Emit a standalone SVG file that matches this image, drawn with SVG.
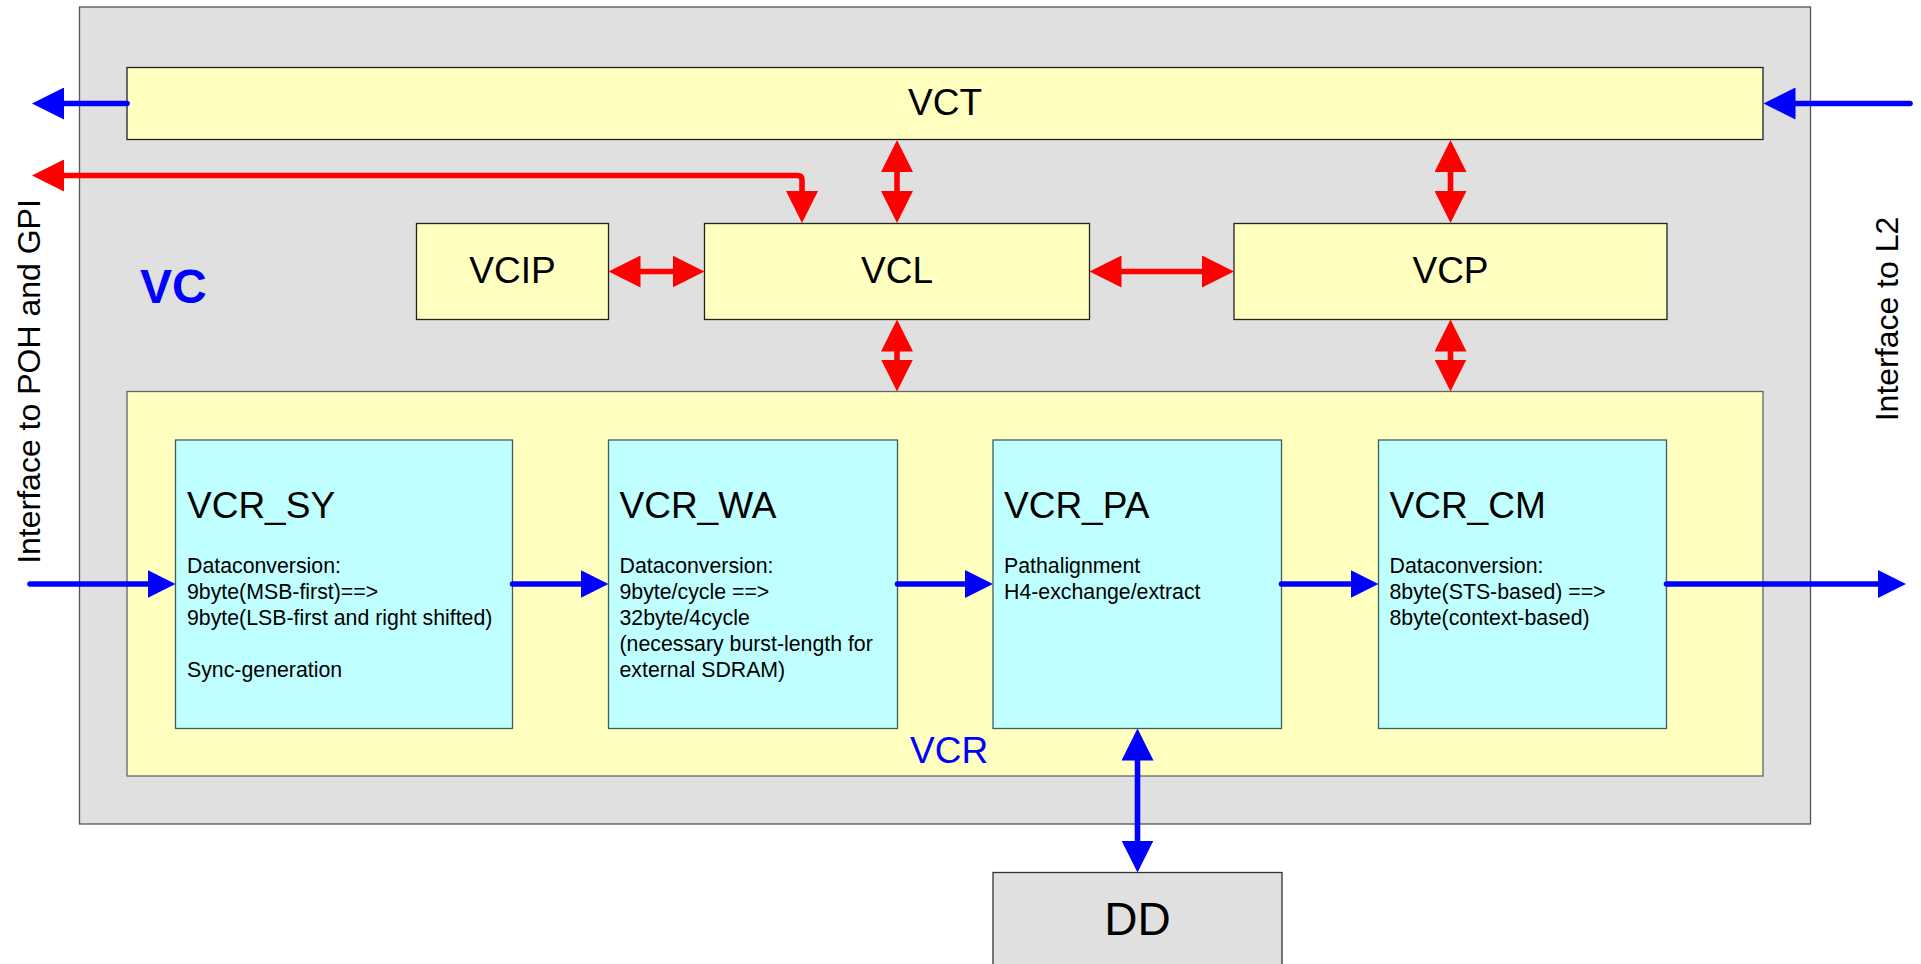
<svg xmlns="http://www.w3.org/2000/svg" width="1921" height="964" viewBox="0 0 1921 964">
<style>
text{font-family:"Liberation Sans",Arial,sans-serif}
.yel{fill:#ffffc0;stroke:#222;stroke-width:1.3}
.cy{fill:#c0ffff;stroke:#3f5f5f;stroke-width:1.3}
.gr{fill:#e0e0e0;stroke:#555;stroke-width:1.3}
.big{font-size:37px;fill:#000}
.ttl{font-size:37px;fill:#000}
.body{font-size:21.3px;fill:#000}
.side{font-size:32px;fill:#000}
.cb{fill:none;stroke:#0000ff;stroke-width:5.6;stroke-linecap:round;stroke-linejoin:round}
.cr{fill:none;stroke:#ff0000;stroke-width:5.6;stroke-linecap:round;stroke-linejoin:round}
</style>
<defs>
<marker id="hb" markerUnits="userSpaceOnUse" viewBox="0 0 32 32" markerWidth="32" markerHeight="32" refX="4" refY="16" orient="auto-start-reverse"><path d="M0,0 L32,16 L0,32 Z" fill="#0000ff"/></marker>
<marker id="hr" markerUnits="userSpaceOnUse" viewBox="0 0 32 32" markerWidth="32" markerHeight="32" refX="4" refY="16" orient="auto-start-reverse"><path d="M0,0 L32,16 L0,32 Z" fill="#ff0000"/></marker>
<marker id="hs" markerUnits="userSpaceOnUse" viewBox="0 0 28 28" markerWidth="28" markerHeight="28" refX="4" refY="14" orient="auto-start-reverse"><path d="M0,0 L28,14 L0,28 Z" fill="#0000ff"/></marker>
</defs>
<rect width="1921" height="964" fill="#fff"/>
<g id="VC">
<rect class="gr" x="79.5" y="7" width="1731" height="817"/>
<text x="140" y="302.5" style="font-size:48px;font-weight:bold;fill:#0000ff">VC</text>
</g>
<g id="side-left"><text class="side" transform="translate(40,381.5) rotate(-90)" text-anchor="middle">Interface to POH and GPI</text></g>
<g id="side-right"><text class="side" transform="translate(1898,319) rotate(-90)" text-anchor="middle">Interface to L2</text></g>
<g id="VCT">
<rect class="yel" x="127" y="67.5" width="1636" height="72"/>
<text class="big" x="945" y="115" text-anchor="middle">VCT</text>
</g>
<g id="VCIP">
<rect class="yel" x="416.5" y="223.5" width="192" height="96"/>
<text class="big" x="512.5" y="282.7" text-anchor="middle">VCIP</text>
</g>
<g id="VCL">
<rect class="yel" x="704.5" y="223.5" width="385" height="96"/>
<text class="big" x="897" y="282.7" text-anchor="middle">VCL</text>
</g>
<g id="VCP">
<rect class="yel" x="1234" y="223.5" width="433" height="96"/>
<text class="big" x="1450.5" y="282.7" text-anchor="middle">VCP</text>
</g>
<g id="VCR">
<rect class="yel" x="127" y="391.5" width="1636" height="384.5" style="stroke:#666"/>
<text x="910" y="762.7" style="font-size:37px;fill:#0000ff">VCR</text>
</g>
<g id="VCR_SY">
<rect class="cy" x="175.5" y="440" width="337" height="288.5"/>
<text class="ttl" x="187" y="518.3">VCR_SY</text>
<text class="body" x="187" y="573.3">Dataconversion:</text>
<text class="body" x="187" y="599.1">9byte(MSB-first)==&gt;</text>
<text class="body" x="187" y="624.9">9byte(LSB-first and right shifted)</text>
<text class="body" x="187" y="676.5">Sync-generation</text>
</g>
<g id="VCR_WA">
<rect class="cy" x="608.5" y="440" width="289" height="288.5"/>
<text class="ttl" x="619.5" y="518.3">VCR_WA</text>
<text class="body" x="619.5" y="573.3">Dataconversion:</text>
<text class="body" x="619.5" y="599.1">9byte/cycle ==&gt;</text>
<text class="body" x="619.5" y="624.9">32byte/4cycle</text>
<text class="body" x="619.5" y="650.7">(necessary burst-length for</text>
<text class="body" x="619.5" y="676.5">external SDRAM)</text>
</g>
<g id="VCR_PA">
<rect class="cy" x="993" y="440" width="288.5" height="288.5"/>
<text class="ttl" x="1004" y="518.3">VCR_PA</text>
<text class="body" x="1004" y="573.3">Pathalignment</text>
<text class="body" x="1004" y="599.1">H4-exchange/extract</text>
</g>
<g id="VCR_CM">
<rect class="cy" x="1378.5" y="440" width="288" height="288.5"/>
<text class="ttl" x="1389.5" y="518.3">VCR_CM</text>
<text class="body" x="1389.5" y="573.3">Dataconversion:</text>
<text class="body" x="1389.5" y="599.1">8byte(STS-based) ==&gt;</text>
<text class="body" x="1389.5" y="624.9">8byte(context-based)</text>
</g>
<g id="DD">
<rect class="gr" x="993" y="872.5" width="289" height="120" style="stroke:#333"/>
<text x="1137.5" y="935" text-anchor="middle" style="font-size:46px;fill:#000">DD</text>
</g>
<g id="connectors">
<path class="cb" d="M127,103.5 L60,103.5" marker-end="url(#hb)"/>
<path class="cb" d="M1910,103.5 L1791.5,103.5" marker-end="url(#hb)"/>
<path class="cr" d="M60,175.5 L797.5,175.5 Q802,175.5 802,180 L802,195" marker-start="url(#hr)" marker-end="url(#hr)"/>
<path class="cr" d="M897,168 L897,195" marker-start="url(#hr)" marker-end="url(#hr)"/>
<path class="cr" d="M1450.5,168 L1450.5,195" marker-start="url(#hr)" marker-end="url(#hr)"/>
<path class="cr" d="M897,347.5 L897,363.5" marker-start="url(#hr)" marker-end="url(#hr)"/>
<path class="cr" d="M1450.5,347.5 L1450.5,363.5" marker-start="url(#hr)" marker-end="url(#hr)"/>
<path class="cr" d="M636.5,271.5 L676.5,271.5" marker-start="url(#hr)" marker-end="url(#hr)"/>
<path class="cr" d="M1117.5,271.5 L1206,271.5" marker-start="url(#hr)" marker-end="url(#hr)"/>
<path class="cb" d="M30,584 L151.5,584" marker-end="url(#hs)"/>
<path class="cb" d="M512.5,584 L584.5,584" marker-end="url(#hs)"/>
<path class="cb" d="M897.5,584 L969,584" marker-end="url(#hs)"/>
<path class="cb" d="M1281.5,584 L1354.5,584" marker-end="url(#hs)"/>
<path class="cb" d="M1666.5,584 L1882,584" marker-end="url(#hs)"/>
<path class="cb" d="M1137.5,756.5 L1137.5,844.5" marker-start="url(#hb)" marker-end="url(#hb)"/>
</g>
</svg>
